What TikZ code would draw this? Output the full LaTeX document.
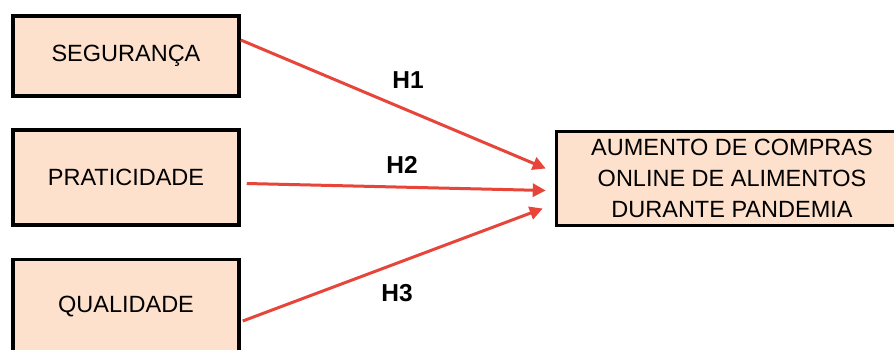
\documentclass[tikz,border=0pt]{standalone}
\usepackage{fontspec}
\setmainfont{Liberation Sans}
\usetikzlibrary{arrows.meta}
\definecolor{peach}{HTML}{FDE1CC}
\definecolor{arrred}{HTML}{E8453A}
\begin{document}
\begin{tikzpicture}[x=1pt,y=1pt,
  box/.style={draw=black,fill=peach,line width=3.5pt,rectangle,inner sep=0pt,
    minimum width=226pt,font=\fontsize{23.5}{31}\selectfont,align=center},
  link/.style={draw=arrred,line width=3pt,-{Triangle[length=13pt,width=13pt]}},
  hlab/.style={font=\fontsize{24.5}{28}\selectfont\bfseries}]
\clip (0,0) rectangle (894,-349);
\fill[white] (0,0) rectangle (894,-349);
\node[box,minimum height=80pt] (s1) at (126,-56) {SEGURANÇA};
\node[box,minimum height=95pt] (s2) at (126,-177.5) {PRATICIDADE};
\node[box,minimum height=95pt] (s3) at (126,-307) {QUALIDADE};
\node[box,minimum width=351pt,minimum height=94pt] (t) at (732,-178.5)
  {AUMENTO DE COMPRAS\\ONLINE DE ALIMENTOS\\DURANTE PANDEMIA};
\draw[link] ([yshift=16pt]s1.east) -- ([xshift=-9pt,yshift=10pt]t.west);
\draw[link] ([xshift=6pt,yshift=-6pt]s2.east) -- ([xshift=-9pt,yshift=-12pt]t.west);
\draw[link] ([xshift=2pt,yshift=-14pt]s3.east) -- ([xshift=-12pt,yshift=-30pt]t.west);
\node[hlab] (h1) at (408,-80) {H1};
\node[hlab] (h2) at (402,-165) {H2};
\node[hlab] (h3) at (397,-293) {H3};
\end{tikzpicture}
\end{document}
